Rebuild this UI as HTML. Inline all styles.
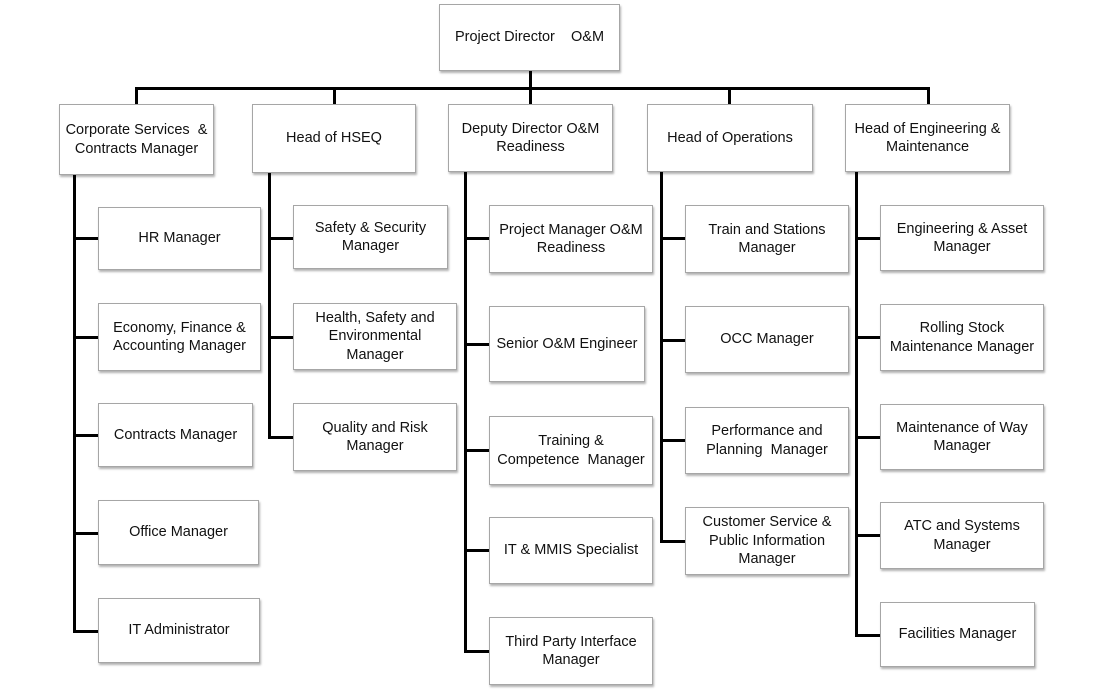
<!DOCTYPE html>
<html><head><meta charset="utf-8"><style>
body{margin:0;background:#fff;width:1103px;height:694px;position:relative;overflow:hidden;font-family:"Liberation Sans",Calibri,sans-serif}
.b{position:absolute;box-sizing:border-box;border:1px solid #a6a6a6;background:#fff;box-shadow:1px 2px 2px rgba(0,0,0,.3);display:flex;align-items:center;justify-content:center;text-align:center;font-size:14.5px;line-height:18.5px;color:#111}
.l{position:absolute;background:#000}
</style></head><body>
<!-- lines -->
<div class="l" style="left:529px;top:70px;width:3px;height:19px"></div>
<div class="l" style="left:135px;top:87px;width:795px;height:3px"></div>
<div class="l" style="left:135px;top:87px;width:3px;height:18px"></div>
<div class="l" style="left:333px;top:87px;width:3px;height:18px"></div>
<div class="l" style="left:529px;top:87px;width:3px;height:18px"></div>
<div class="l" style="left:728px;top:87px;width:3px;height:18px"></div>
<div class="l" style="left:927px;top:87px;width:3px;height:18px"></div>
<!-- trunks -->
<div class="l" style="left:73px;top:175px;width:3px;height:458px"></div>
<div class="l" style="left:268px;top:173px;width:3px;height:266px"></div>
<div class="l" style="left:464px;top:172px;width:3px;height:481px"></div>
<div class="l" style="left:660px;top:172px;width:3px;height:371px"></div>
<div class="l" style="left:855px;top:172px;width:3px;height:465px"></div>
<!-- stubs col1 -->
<div class="l" style="left:73px;top:237px;width:25px;height:3px"></div>
<div class="l" style="left:73px;top:336px;width:25px;height:3px"></div>
<div class="l" style="left:73px;top:434px;width:25px;height:3px"></div>
<div class="l" style="left:73px;top:532px;width:25px;height:3px"></div>
<div class="l" style="left:73px;top:630px;width:25px;height:3px"></div>
<!-- col2 -->
<div class="l" style="left:268px;top:237px;width:25px;height:3px"></div>
<div class="l" style="left:268px;top:336px;width:25px;height:3px"></div>
<div class="l" style="left:268px;top:436px;width:25px;height:3px"></div>
<!-- col3 -->
<div class="l" style="left:464px;top:237px;width:25px;height:3px"></div>
<div class="l" style="left:464px;top:343px;width:25px;height:3px"></div>
<div class="l" style="left:464px;top:449px;width:25px;height:3px"></div>
<div class="l" style="left:464px;top:549px;width:25px;height:3px"></div>
<div class="l" style="left:464px;top:650px;width:25px;height:3px"></div>
<!-- col4 -->
<div class="l" style="left:660px;top:237px;width:25px;height:3px"></div>
<div class="l" style="left:660px;top:339px;width:25px;height:3px"></div>
<div class="l" style="left:660px;top:439px;width:25px;height:3px"></div>
<div class="l" style="left:660px;top:540px;width:25px;height:3px"></div>
<!-- col5 -->
<div class="l" style="left:855px;top:237px;width:25px;height:3px"></div>
<div class="l" style="left:855px;top:336px;width:25px;height:3px"></div>
<div class="l" style="left:855px;top:436px;width:25px;height:3px"></div>
<div class="l" style="left:855px;top:534px;width:25px;height:3px"></div>
<div class="l" style="left:855px;top:634px;width:25px;height:3px"></div>

<div class="b" style="left:439px;top:4px;width:181px;height:67px">Project Director&nbsp;&nbsp;&nbsp;&nbsp;O&amp;M</div>
<div class="b" style="left:59px;top:104px;width:155px;height:71px">Corporate Services&nbsp;&nbsp;&amp;<br>Contracts Manager</div>
<div class="b" style="left:252px;top:104px;width:164px;height:69px">Head of HSEQ</div>
<div class="b" style="left:448px;top:104px;width:165px;height:68px">Deputy Director O&amp;M<br>Readiness</div>
<div class="b" style="left:647px;top:104px;width:166px;height:68px">Head of Operations</div>
<div class="b" style="left:845px;top:104px;width:165px;height:68px">Head of Engineering &amp;<br>Maintenance</div>

<div class="b" style="left:98px;top:207px;width:163px;height:63px">HR Manager</div>
<div class="b" style="left:98px;top:303px;width:163px;height:68px">Economy, Finance &amp;<br>Accounting Manager</div>
<div class="b" style="left:98px;top:403px;width:155px;height:64px">Contracts Manager</div>
<div class="b" style="left:98px;top:500px;width:161px;height:65px">Office Manager</div>
<div class="b" style="left:98px;top:598px;width:162px;height:65px">IT Administrator</div>

<div class="b" style="left:293px;top:205px;width:155px;height:64px">Safety &amp; Security<br>Manager</div>
<div class="b" style="left:293px;top:303px;width:164px;height:67px">Health, Safety and<br>Environmental<br>Manager</div>
<div class="b" style="left:293px;top:403px;width:164px;height:68px">Quality and Risk<br>Manager</div>

<div class="b" style="left:489px;top:205px;width:164px;height:68px">Project Manager O&amp;M<br>Readiness</div>
<div class="b" style="left:489px;top:306px;width:156px;height:76px">Senior O&amp;M Engineer</div>
<div class="b" style="left:489px;top:416px;width:164px;height:69px">Training &amp;<br>Competence&nbsp;&nbsp;Manager</div>
<div class="b" style="left:489px;top:517px;width:164px;height:67px">IT &amp; MMIS Specialist</div>
<div class="b" style="left:489px;top:617px;width:164px;height:68px">Third Party Interface<br>Manager</div>

<div class="b" style="left:685px;top:205px;width:164px;height:68px">Train and Stations<br>Manager</div>
<div class="b" style="left:685px;top:306px;width:164px;height:67px">OCC Manager</div>
<div class="b" style="left:685px;top:407px;width:164px;height:67px">Performance and<br>Planning&nbsp;&nbsp;Manager</div>
<div class="b" style="left:685px;top:507px;width:164px;height:68px">Customer Service &amp;<br>Public Information<br>Manager</div>

<div class="b" style="left:880px;top:205px;width:164px;height:66px">Engineering &amp; Asset<br>Manager</div>
<div class="b" style="left:880px;top:304px;width:164px;height:67px">Rolling Stock<br>Maintenance Manager</div>
<div class="b" style="left:880px;top:404px;width:164px;height:66px">Maintenance of Way<br>Manager</div>
<div class="b" style="left:880px;top:502px;width:164px;height:67px">ATC and Systems<br>Manager</div>
<div class="b" style="left:880px;top:602px;width:155px;height:65px">Facilities Manager</div>
</body></html>
